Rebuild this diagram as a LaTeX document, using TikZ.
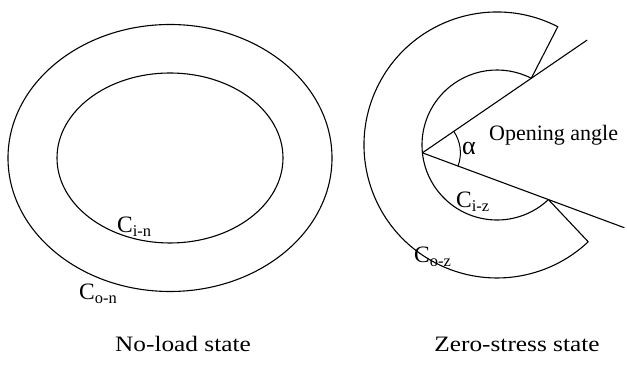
\documentclass[tikz,border=0pt]{standalone}
\usepackage{fontspec}
\setmainfont{Liberation Serif}
\usetikzlibrary{angles,calc}

\begin{document}
\begin{tikzpicture}[x=1pt,y=1pt,line cap=round,line join=round,
  ring/.style={line width=1.1pt},
  curvelbl/.style={anchor=base west,inner sep=0pt,font=\fontsize{23.5}{26}\selectfont},
  statelbl/.style={anchor=base,inner sep=0pt,xscale=1.15,font=\fontsize{22}{24}\selectfont}]
\path[use as bounding box] (0,0) rectangle (627,371);
% no-load state
\coordinate (nc) at (170,213);
\draw[ring] (nc) ellipse[x radius=162,y radius=133.5];
\draw[ring] (nc) ellipse[x radius=113,y radius=85];
\node[curvelbl] (cin) at (117,138) {C\textsubscript{i-n}};
\node[curvelbl] (con) at (79,71) {C\textsubscript{o-n}};
% zero-stress state
\coordinate (zc) at (497,226);
\coordinate (outU) at ($(zc)+(62.8:133)$);
\coordinate (inU) at ($(zc)+(62.8:75)$);
\coordinate (inL) at ($(zc)+(-46.7:75)$);
\coordinate (apex) at ($(zc)+(186:75)$);
\coordinate (endU) at ($(apex)!1.511!(inU)$);
\coordinate (endL) at ($(apex)!1.60!(inL)$);
\draw[ring] (outU) arc[start angle=62.8,end angle=313.3,radius=133] -- (inL)
  arc[start angle=-46.7,end angle=-297.2,radius=75] -- cycle;
\draw[ring] (apex) -- (endU);
\draw[ring] (apex) -- (endL);
\pic[draw,line width=1pt,angle radius=38] {angle=endL--apex--endU};
\node[anchor=base west,inner sep=0pt,font=\fontsize{26}{28}\selectfont] (alpha) at (462,216) {α};
\node[anchor=base west,inner sep=0pt,font=\fontsize{22}{24}\selectfont] (open) at (489,230) {Opening angle};
\node[curvelbl] (ciz) at (456,163) {C\textsubscript{i-z}};
\node[curvelbl] (coz) at (414,108) {C\textsubscript{o-z}};
% captions
\node[statelbl] (nolbl) at (183,19) {No-load state};
\node[statelbl] (zslbl) at (517,19) {Zero-stress state};
\end{tikzpicture}
\end{document}
